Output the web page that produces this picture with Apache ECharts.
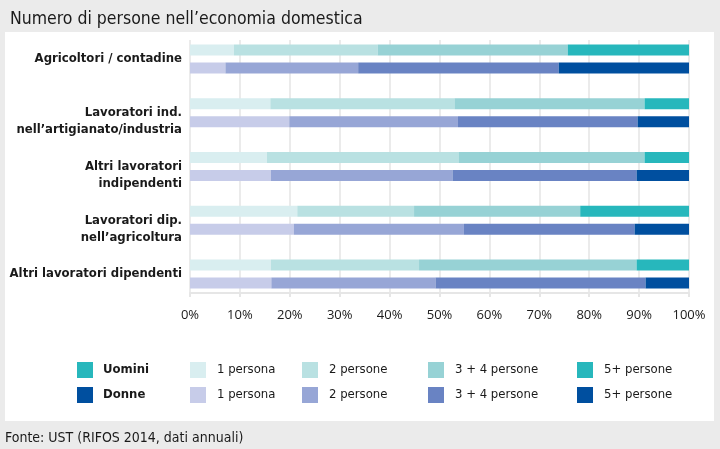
<!DOCTYPE html>
<html>
<head>
<meta charset="utf-8">
<script src="https://cdn.jsdelivr.net/npm/echarts@6/dist/echarts.min.js"></script>
<style>
html,body{margin:0;padding:0;background:#ebebeb;}
#c{width:720px;height:449px;}
</style>
</head>
<body>
<div id="c"></div>
<script>
const titleText = 'Numero di persone nell’economia domestica';
const sourceText = 'Fonte: UST (RIFOS 2014, dati annuali)';
const categories = ['Agricoltori / contadine', 'Lavoratori ind.\nnell’artigianato/industria', 'Altri lavoratori\nindipendenti', 'Lavoratori dip.\nnell’agricoltura', 'Altri lavoratori dipendenti'];
const groupLabels = ['Uomini', 'Donne'];
const segmentLabels = ['1 persona', '2 persone', '3 + 4 persone', '5+ persone'];
const uomini1 = [8.8, 16.1, 15.4, 21.5, 16.2];
const uomini2 = [28.8, 36.9, 38.4, 23.4, 29.7];
const uomini3 = [38.1, 38.1, 37.3, 33.3, 43.6];
const uomini4 = [24.3, 8.9, 8.9, 21.8, 10.5];
const donne1 = [7.1, 19.9, 16.2, 20.8, 16.3];
const donne2 = [26.6, 33.8, 36.4, 34.1, 32.9];
const donne3 = [40.2, 36.0, 36.9, 34.2, 42.1];
const donne4 = [26.1, 10.3, 10.5, 10.9, 8.7];
const xTicks = [0, 10, 20, 30, 40, 50, 60, 70, 80, 90, 100];

const uColors = ['#d9eef0', '#b9e1e2', '#97d2d5', '#27b7bc'];
const dColors = ['#c7cce9', '#97a6d6', '#6983c3', '#004f9f'];
const uData = [uomini1, uomini2, uomini3, uomini4];
const dData = [donne1, donne2, donne3, donne4];

const condensed = '"DejaVu Sans Condensed","Roboto Condensed","Open Sans",sans-serif';

const series = [];
uData.forEach((d, i) => series.push({
  name: groupLabels[0] + ' – ' + segmentLabels[i], type: 'bar', stack: 'u', data: d,
  xAxisIndex: 0, yAxisIndex: 0, barWidth: 11, barGap: '64%',
  itemStyle: {color: uColors[i]}, emphasis: {disabled: true}
}));
dData.forEach((d, i) => series.push({
  name: groupLabels[1] + ' – ' + segmentLabels[i], type: 'bar', stack: 'd', data: d,
  xAxisIndex: 0, yAxisIndex: 0, barWidth: 11, barGap: '64%',
  itemStyle: {color: dColors[i]}, emphasis: {disabled: true}
}));

// legend graphics
const legendCols = [[190, 217], [302, 329], [428, 455], [577, 604]];
const legendRows = [370, 395];
const graphics = [
  {type: 'rect', z: -10, shape: {x: 5, y: 32, width: 709, height: 389}, style: {fill: '#ffffff'}, silent: true}
];
[uColors, dColors].forEach((cols, r) => {
  const cy = legendRows[r];
  graphics.push({type: 'rect', shape: {x: 77, y: cy - 8, width: 16, height: 16}, style: {fill: cols[3]}});
  graphics.push({type: 'text', x: 103, y: cy, style: {text: groupLabels[r], font: 'bold 13px ' + condensed, fill: '#1a1a1a', textVerticalAlign: 'middle'}});
  segmentLabels.forEach((s, i) => {
    graphics.push({type: 'rect', shape: {x: legendCols[i][0], y: cy - 8, width: 16, height: 16}, style: {fill: cols[i]}});
    graphics.push({type: 'text', x: legendCols[i][1], y: cy, style: {text: s, font: '13px ' + condensed, fill: '#1a1a1a', textVerticalAlign: 'middle'}});
  });
});
graphics.push({type: 'text', x: 5, y: 438, style: {text: sourceText, font: '14px ' + condensed, fill: '#1a1a1a', textVerticalAlign: 'middle'}});

const chart = echarts.init(document.getElementById('c'), null, {renderer: 'canvas'});
chart.setOption({
  backgroundColor: '#ebebeb',
  animation: false,
  title: {text: titleText, left: 5, top: 5, textStyle: {fontFamily: condensed, fontSize: 17.5, fontWeight: 'normal', color: '#1a1a1a'}},
  grid: [
    {left: 190, right: 31, top: 32, height: 269, containLabel: false, outerBoundsMode: 'none'},
    {left: 190, right: 31, top: 40, bottom: 156, containLabel: false, outerBoundsMode: 'none'}
  ],
  xAxis: [
    {gridIndex: 0, type: 'value', min: 0, max: 100, show: false},
    {gridIndex: 1, type: 'value', min: 0, max: 100, interval: 10,
      axisLine: {show: true, lineStyle: {color: '#e6e6e6', width: 2}},
      axisTick: {show: true, length: 4, lineStyle: {color: '#e6e6e6', width: 2}},
      splitLine: {show: true, lineStyle: {color: '#ebebeb', width: 2}},
      axisLabel: {formatter: v => xTicks.indexOf(v) >= 0 ? v + '%' : '', margin: 16, fontFamily: '"Open Sans",sans-serif', fontSize: 13, color: '#1a1a1a'}
    }
  ],
  yAxis: [
    {gridIndex: 0, type: 'category', data: categories, inverse: true,
      axisLine: {show: false}, axisTick: {show: false}, splitLine: {show: false},
      axisLabel: {margin: 8, fontFamily: condensed, fontWeight: 'bold', fontSize: 13, lineHeight: 17, color: '#1a1a1a',
        formatter: v => v.indexOf('\n') >= 0 ? '\n' + v : v}
    },
    {gridIndex: 1, type: 'value', show: false}
  ],
  graphic: graphics,
  series: series
});
</script>
</body>
</html>
